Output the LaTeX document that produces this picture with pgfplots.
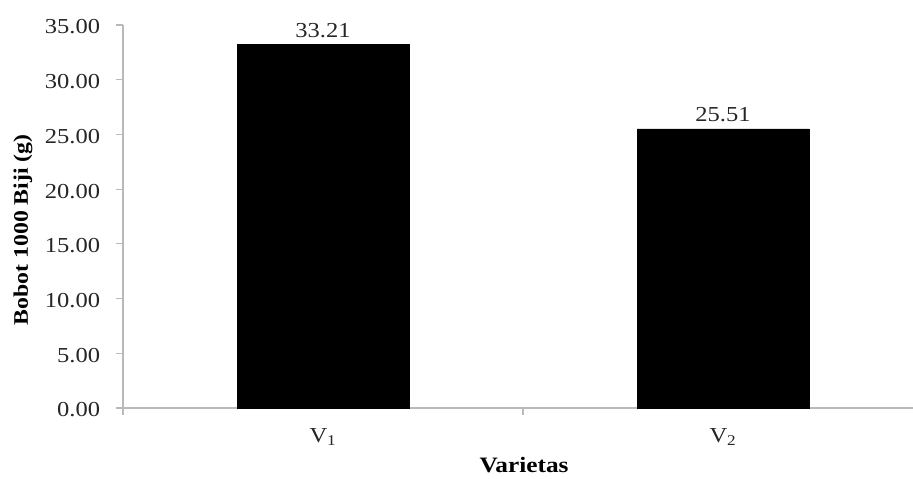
\documentclass[border=0pt]{standalone}
\usepackage{pgfplots}
\pgfplotsset{compat=1.18}
\usepackage{fontspec}
\setmainfont{Liberation Serif}[FakeStretch=1.15]
\begin{document}
\fontsize{15}{18}\selectfont
\begin{tikzpicture}
% fixed frame around the axis (1px = 0.75pt)
\useasboundingbox (-92.25pt,-52.5pt) rectangle (592.5pt,306pt);
\begin{axis}[
  at={(0pt,0pt)}, anchor=south west,
  scale only axis, width=592.5pt, height=287.25pt,
  xmin=-0.5, xmax=1.475, ymin=0, ymax=35,
  axis x line*=bottom, axis y line*=left,
  axis line style={draw=gray!55, line width=1pt, -},
  tick align=outside, major tick length=5pt,
  tick style={draw=gray!55, line width=0.8pt},
  ytick={0,5,...,35},
  xtick={-0.5,0.5}, xticklabels={},
  extra x ticks={0,1},
  extra x tick labels={V\textsubscript{1},V\textsubscript{2}},
  extra x tick style={major tick length=0pt, tick style={draw=none}},
  /pgf/number format/.cd, fixed, fixed zerofill, precision=2, assume math mode=true,
  /pgfplots/.cd,
  yticklabel style={font=\fontsize{16}{19}\selectfont, text=black!85, xshift=-7pt, yshift=-1.5pt},
  xticklabel style={font=\fontsize{16}{19}\selectfont, text=black!85, yshift=-10pt},
  ylabel={\textbf{Bobot 1000 Biji (g)}},
  ylabel style={at={(axis description cs:-0.1266,0.465)}, anchor=center, font=\fontsize{15.5}{18}\selectfont},
  xlabel={\textbf{Varietas}},
  xlabel style={at={(axis description cs:0.5076,-0.148)}, anchor=center, font=\fontsize{16.5}{19}\selectfont},
  ybar, bar width=129pt,
  nodes near coords,
  every node near coord/.append style={font=\fontsize{16}{19}\selectfont, text=black!85},
]
\addplot[fill=black, draw=black] coordinates {(0,33.21) (1,25.51)};
\end{axis}
\end{tikzpicture}
\end{document}
